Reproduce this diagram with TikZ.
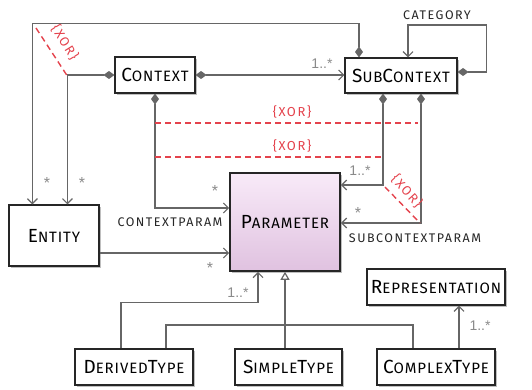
\documentclass[tikz,border=0pt]{standalone}
\usepackage{fontspec}
\setmainfont{Fira Sans}
\newfontfamily\scfont[LetterSpace=6]{Fira Sans}
\newfontfamily\lbfont[LetterSpace=12]{Fira Sans}
\newfontfamily\numfont{Liberation Sans}
\usetikzlibrary{arrows.meta,shadows,calc}
\definecolor{lineg}{HTML}{666666}
\definecolor{xred}{HTML}{E4424C}
\definecolor{labg}{HTML}{8A8A8A}
\definecolor{ptop}{HTML}{F8EAF8}
\definecolor{pbot}{HTML}{E0C2E0}
\newcommand\Bg[1]{{\fontsize{19}{19}\selectfont #1}}
\newcommand\Sm[1]{{\fontsize{15}{15}\selectfont #1}}
\newcommand\Lb[1]{{\lbfont\fontsize{12.5}{12.5}\selectfont #1}}
\tikzset{
  box/.style={draw=black!85, line width=1.1pt, fill=white, inner sep=0pt,
    drop shadow={shadow xshift=2pt, shadow yshift=-2pt, fill=black!50, opacity=0.5},
    font=\scfont},
  conn/.style={draw=lineg, line width=1.2pt},
  comp/.style={conn, {Diamond[length=11pt,width=8pt]}-{Straight Barb[length=5pt,width=10pt]}},
  assoc/.style={conn, -{Straight Barb[length=5pt,width=10pt]}},
  gen/.style={conn, -{Triangle[open,length=8pt,width=9pt,fill=white]}},
  xorline/.style={draw=xred, line width=1.4pt, dash pattern=on 6pt off 4pt},
  xorlab/.style={text=xred, font=\lbfont\fontsize{13}{13}\selectfont, inner sep=0pt},
  mult/.style={text=labg, font=\numfont\fontsize{14}{14}\selectfont, inner sep=0pt},
  star/.style={text=labg, font=\numfont\fontsize{16}{16}\selectfont, inner sep=0pt},
  rolelab/.style={text=black!85, inner sep=0pt}
}
\begin{document}
\begin{tikzpicture}[x=1pt,y=-1pt]
\useasboundingbox (0,0) rectangle (532,390);
% boxes
\node[box, minimum width=80pt, minimum height=36pt] (ctx) at (155,75) {\Bg{C}\Sm{ONTEXT}};
\node[box, minimum width=112pt, minimum height=35pt] (sub) at (401,75.5) {\Bg{S}\Sm{UB}\Bg{C}\Sm{ONTEXT}};
\node[box, minimum width=90pt, minimum height=61pt] (ent) at (54,235.5) {\Bg{E}\Sm{NTITY}};
\node[box, minimum width=110pt, minimum height=98pt, line width=1.6pt, top color=ptop, bottom color=pbot] (par) at (285,222) {\Bg{P}\Sm{ARAMETER}};
\node[box, minimum width=138pt, minimum height=36pt] (rep) at (436,287) {\Bg{R}\Sm{EPRESENTATION}};
\node[box, minimum width=118pt, minimum height=36pt] (der) at (134,367) {\Bg{D}\Sm{ERIVED}\Bg{T}\Sm{YPE}};
\node[box, minimum width=107pt, minimum height=36pt] (sim) at (288.5,367) {\Bg{S}\Sm{IMPLE}\Bg{T}\Sm{YPE}};
\node[box, minimum width=118pt, minimum height=36pt] (cpx) at (436,367) {\Bg{C}\Sm{OMPLEX}\Bg{T}\Sm{YPE}};
% composition connectors
\draw[comp] (ctx.west) -| ([xshift=59pt]ent.north west);
\draw[comp] ([xshift=-42pt]sub.north) -- ++(0,-34) -| ([xshift=24pt]ent.north west);
\draw[comp] (ctx.east) -- (sub.west |- ctx.east);
\draw[comp] (ctx.south) |- ([yshift=14pt]par.west);
\draw[comp] ([xshift=-18pt]sub.south) |- ([yshift=37pt]par.east);
\draw[comp] ([xshift=20pt]sub.south) |- ([yshift=-1pt]par.east);
\draw[comp] ([yshift=3.5pt]sub.east) -- ++(29,0) -- ++(0,-47) -| ([xshift=7pt]sub.north);
\draw[assoc] ([yshift=-17.5pt]ent.east) -- ([yshift=-17.5pt]ent.east -| par.west);
% generalisation
\coordinate (gj) at (285,325);
\draw[gen] (sim.north -| par.south) -- (par.south);
\draw[conn] ([xshift=32pt]der.north) |- (gj) -| ([xshift=-23pt]cpx.north);
\draw[assoc] ([xshift=-13pt]der.north) -- ++(0,-46) -| ([xshift=-27pt]par.south);
\draw[assoc] ([xshift=23pt]cpx.north) -- ([xshift=23pt]cpx.north |- rep.south);
% xor constraints
\draw[xorline] (36,28) -- (68,77);
\draw[xorline] (155,123) -- (418,123);
\draw[xorline] (155,157) -- (382,157);
\draw[xorline] (385,187) -- (420,223);
\node[xorlab] (x1) at (292,112) {\{XOR\}};
\node[xorlab] (x2) at (292,146) {\{XOR\}};
\node[xorlab, rotate=-58] (x3) at (65,42) {\{XOR\}};
\node[xorlab, rotate=-48] (x4) at (407,191) {\{XOR\}};
% multiplicities
\node[mult] (m1) at (322,64) {1..*};
\node[mult] (m2) at (360,171) {1..*};
\node[star] (m3) at (358,213) {*};
\node[star] (m4) at (47,183) {*};
\node[star] (m5) at (82,183) {*};
\node[star] (m6) at (215,191) {*};
\node[star] (m7) at (210,268) {*};
\node[mult] (m8) at (238,293) {1..*};
\node[mult] (m9) at (480,326) {1..*};
% role labels
\node[rolelab] (l1) at (437,15) {\Lb{CATEGORY}};
\node[rolelab] (l2) at (170,222) {\Lb{CONTEXTPARAM}};
\node[rolelab] (l3) at (415,238) {\Lb{SUBCONTEXTPARAM}};
\end{tikzpicture}
\end{document}
